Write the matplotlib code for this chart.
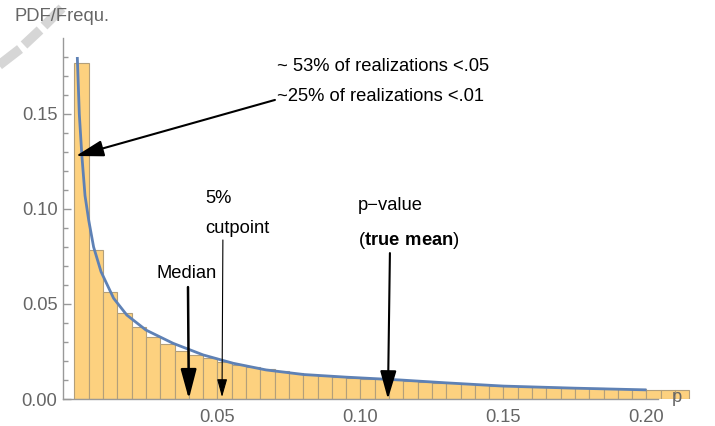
import matplotlib
matplotlib.use("Agg")
import matplotlib.pyplot as plt
from matplotlib.lines import Line2D
import numpy as np

plt.rcParams["font.family"] = ["Liberation Sans", "DejaVu Sans"]
plt.rcParams["mathtext.fontset"] = "custom"
plt.rcParams["mathtext.rm"] = "Liberation Sans"
plt.rcParams["mathtext.bf"] = "Liberation Sans:bold"

# histogram of p-values, bins of 0.005 starting at 0
bin_width = 0.005
freq = [0.177, 0.0784, 0.0565, 0.0451, 0.0381, 0.0328, 0.0289, 0.0254, 0.0232, 0.0214,
        0.0196, 0.0181, 0.0170, 0.0160, 0.0147, 0.0135, 0.0128, 0.0122, 0.0116, 0.0111,
        0.0107, 0.0103, 0.0099, 0.0094, 0.0090, 0.0086, 0.0082, 0.0078, 0.0075, 0.0071,
        0.0067, 0.0065, 0.0063, 0.0061, 0.0059, 0.0057, 0.0056, 0.0054, 0.0053, 0.0051,
        0.0050, 0.0050, 0.0049]

# PDF curve
pdf_p = [0.0010, 0.0017, 0.0026, 0.0037, 0.0050, 0.0067, 0.0093, 0.0137, 0.0183, 0.0250,
         0.0345, 0.0450, 0.0555, 0.0670, 0.0800, 0.0950, 0.1140, 0.1300, 0.1500, 0.1750, 0.2000]
pdf_y = [0.180, 0.150, 0.128, 0.107, 0.094, 0.080, 0.067, 0.053, 0.0442, 0.0363,
         0.0293, 0.0232, 0.0188, 0.0153, 0.0129, 0.0115, 0.0100, 0.0085, 0.0068, 0.0057, 0.0048]

xticks = [0.05, 0.10, 0.15, 0.20]
xtick_labels = ["0.05", "0.10", "0.15", "0.20"]
yticks = [0.0, 0.05, 0.10, 0.15]
ytick_labels = ["0.00", "0.05", "0.10", "0.15"]

median = 0.040
cutpoint = 0.0516
true_mean_p = 0.1096

gray = "#666666"
fs = 13.2

fig = plt.figure(figsize=(7.15, 4.26), dpi=100)
ax = fig.add_axes([63 / 715, 27 / 426, 627.8 / 715, 361 / 426])
ax.set_xlim(-0.004, 0.2155)
ax.set_ylim(0, 0.19)

lefts = np.arange(len(freq)) * bin_width
ax.bar(lefts, freq, width=bin_width, align="edge", color="#FDD17F",
       edgecolor="#B39F7A", linewidth=0.8, zorder=2)
ax.plot(pdf_p, pdf_y, color="#5E81B5", lw=2.0, zorder=3, solid_capstyle="butt")

for s in ["top", "right"]:
    ax.spines[s].set_visible(False)
ax.spines["bottom"].set_bounds(-0.004, 0.204)
ax.spines["left"].set_bounds(0, 0.19)
for s in ["bottom", "left"]:
    ax.spines[s].set_color("#999999")
    ax.spines[s].set_linewidth(1.0)

ax.set_xticks(xticks)
ax.set_xticklabels(xtick_labels)
ax.set_yticks(yticks)
ax.set_yticklabels(ytick_labels)
ax.set_yticks(np.arange(0.01, 0.19, 0.01), minor=True)
ax.tick_params(axis="x", length=0, pad=7, labelsize=fs, labelcolor=gray)
ax.tick_params(axis="y", which="major", direction="in", length=5.5, width=1,
               color="#999999", pad=4, labelsize=fs, labelcolor=gray)
ax.tick_params(axis="y", which="minor", direction="in", length=3.5, width=1, color="#999999")

ax.text(0.2107, 0.001, "p", ha="center", va="center", fontsize=fs, color=gray)
fig.text(15 / 715, 1 - 20.7 / 426, "PDF/Frequ.", fontsize=fs, color=gray, va="baseline")

# annotations
ax.text(0.0707, 0.1728, "~ 53% of realizations <.05", fontsize=fs, va="baseline")
ax.text(0.0707, 0.1570, "~25% of realizations <.01", fontsize=fs, va="baseline")
ax.text(0.0456, 0.1032, "5%", fontsize=fs, va="baseline")
ax.text(0.0456, 0.0874, "cutpoint", fontsize=fs, va="baseline")
ax.text(0.0288, 0.0635, "Median", fontsize=fs, va="baseline")
ax.text(0.0991, 0.0995, "p\u2212value", fontsize=fs, va="baseline")
ax.text(0.0991, 0.0811, r"($\mathbf{true\ mean}$)", fontsize=fs, va="baseline")

ax.annotate("", xy=(0.0005, 0.1279), xytext=(0.0701, 0.1574),
            arrowprops=dict(arrowstyle="-|>,head_length=1.7,head_width=0.5",
                            color="black", lw=1.5, mutation_scale=10,
                            shrinkA=0, shrinkB=0), zorder=5)
ax.annotate("", xy=(median, 0), xytext=(0.0397, 0.0589),
            arrowprops=dict(arrowstyle="-|>,head_length=1.8,head_width=0.48",
                            color="black", lw=1.8, mutation_scale=10,
                            shrinkA=0, shrinkB=0), zorder=5)
ax.annotate("", xy=(cutpoint, 0.001), xytext=(0.0519, 0.0837),
            arrowprops=dict(arrowstyle="-|>,head_length=1.1,head_width=0.31",
                            color="black", lw=0.8, mutation_scale=10,
                            shrinkA=0, shrinkB=0), zorder=5)
ax.annotate("", xy=(true_mean_p, 0), xytext=(0.1103, 0.0768),
            arrowprops=dict(arrowstyle="-|>,head_length=1.73,head_width=0.5",
                            color="black", lw=1.5, mutation_scale=10,
                            shrinkA=0, shrinkB=0), zorder=5)

# faint watermark arc in the corner
wx = [-2, 20, 24, 40, 44, 62]
wy = [66, 49, 45, 30, 26, 8]
for i in range(0, len(wx), 2):
    fig.add_artist(Line2D([wx[i] / 715, wx[i + 1] / 715],
                          [1 - wy[i] / 426, 1 - wy[i + 1] / 426],
                          color="#d6d6d6", lw=7, solid_capstyle="butt"))

fig.savefig("out.png", dpi=100)
